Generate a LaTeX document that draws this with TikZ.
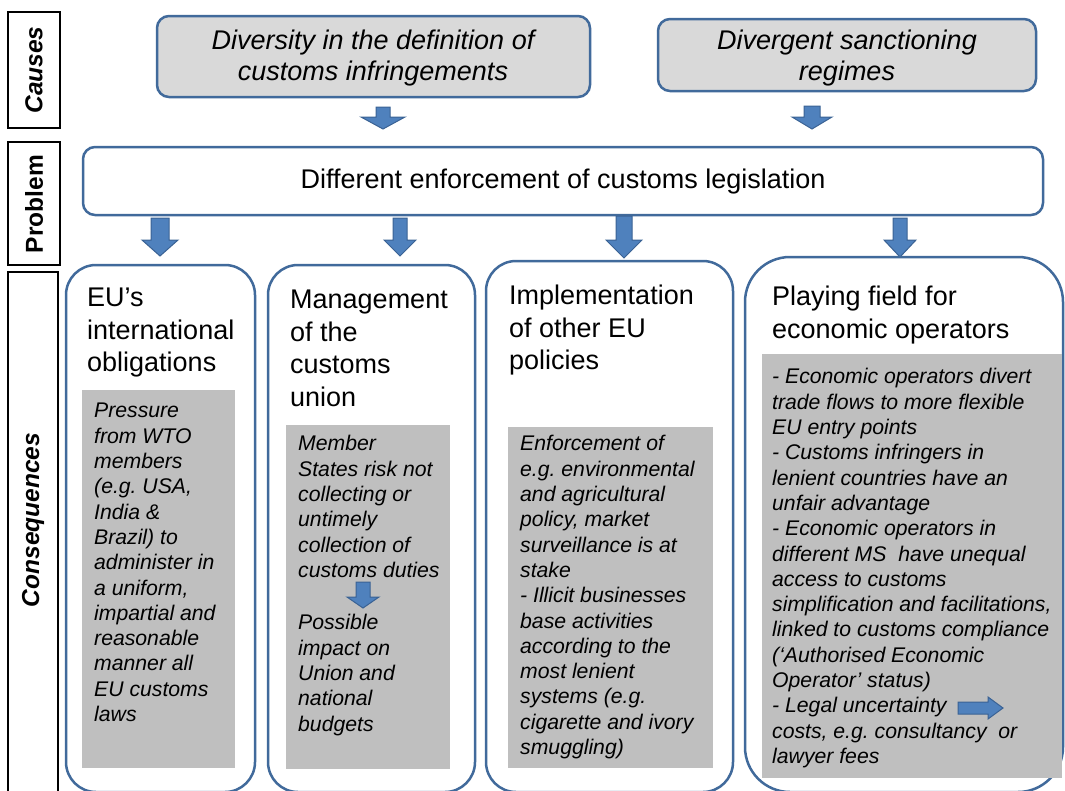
\documentclass[tikz,border=0pt]{standalone}
\usepackage{fontspec}
\setmainfont{Liberation Sans}
\frenchspacing
\definecolor{bordblue}{RGB}{65,106,155}
\definecolor{arrfill}{RGB}{79,129,189}
\definecolor{arrline}{RGB}{58,98,148}
\definecolor{causefill}{RGB}{217,217,217}
\definecolor{bodyfill}{RGB}{191,191,191}
\newcommand{\dnarrow}[6]{%
  \filldraw[blockarrow] ({#1-#5},#2) -- ({#1+#5},#2) -- ({#1+#5},#3) -- ({#1+#6},#3)
    -- (#1,#4) -- ({#1-#6},#3) -- ({#1-#5},#3) -- cycle;}
\newcommand{\rtarrow}[6]{%
  \filldraw[blockarrow] (#2,{#1-#5}) -- (#2,{#1+#5}) -- (#3,{#1+#5}) -- (#3,{#1+#6})
    -- (#4,#1) -- (#3,{#1-#6}) -- (#3,{#1-#5}) -- cycle;}
\begin{document}
\begin{tikzpicture}[x=1pt,y=-1pt,
  blockarrow/.style={fill=arrfill, draw=arrline, line width=1pt, line join=miter},
  sidebox/.style={draw=black, line width=1.2pt},
  sidelabel/.style={rotate=90, font=\fontsize{24.5}{28}\selectfont\bfseries},
  causebox/.style={fill=causefill, draw=bordblue, line width=2.5pt, rounded corners=12pt},
  probbox/.style={fill=white, draw=bordblue, line width=2.5pt, rounded corners=12pt},
  consbox/.style={fill=white, draw=bordblue, line width=2.5pt, rounded corners=30pt},
  bodybox/.style={fill=bodyfill, draw=none},
  titletext/.style={anchor=north west, inner sep=0pt, align=left, font=\fontsize{27}{32.5}\selectfont},
  bodytext/.style={anchor=north west, inner sep=0pt, align=left, font=\fontsize{21.2}{25.3}\selectfont\itshape\frenchspacing},
  causetext/.style={anchor=north, inner sep=0pt, align=center, font=\fontsize{27}{31}\selectfont\itshape}
]
\useasboundingbox (0,0) rectangle (1065,790);
\clip (0,0) rectangle (1065,790);

% side labels
\draw[sidebox] (8,12) rectangle (60,128);
\node[sidelabel, font=\fontsize{24.5}{28}\selectfont\bfseries\itshape] (lcauses) at (34,70) {Causes};
\draw[sidebox] (8,142) rectangle (60,265);
\node[sidelabel] (lproblem) at (34,204) {Problem};
\draw[sidebox] (8,272) rectangle (58,800);
\node[sidelabel, font=\fontsize{24.5}{28}\selectfont\bfseries\itshape] (lcons) at (33,520) {Consequences};

% causes
\draw[causebox] (157,16) rectangle (590,97);
\node[causetext] (cause1) at (373,28) {\strut Diversity in the definition of\\customs infringements};
\draw[causebox] (658,19) rectangle (1036,91);
\node[causetext] (cause2) at (847,28) {\strut Divergent sanctioning\\regimes};

\dnarrow{383}{107}{117}{129}{7}{22}
\dnarrow{812}{106}{117}{129}{8}{20}

% problem
\draw[probbox] (83,147) rectangle (1043,215);
\node[inner sep=0pt, font=\fontsize{27}{32}\selectfont] (problem) at (563,182) {Different enforcement of customs legislation};

\dnarrow{160}{218}{240}{256}{9}{18}
\dnarrow{400}{218}{240}{256}{7}{16}
\dnarrow{624}{216}{240}{258}{8}{18}
\dnarrow{900}{218}{240}{257}{7}{16}

% consequences
\draw[consbox] (66,265) rectangle (255,792);
\draw[consbox] (268,265) rectangle (475,792);
\draw[consbox] (486,261) rectangle (733,792);
\draw[consbox, rounded corners=45pt] (745,257) rectangle (1063,792);

\node[titletext] (t1) at (87,284) {\strut EU’s\\international\\obligations};
\node[titletext] (t2) at (290,286) {\strut Management\\of the\\customs\\union};
\node[titletext] (t3) at (509,282) {\strut Implementation\\of other EU\\policies};
\node[titletext] (t4) at (772,283) {\strut Playing field for\\economic operators};

\fill[bodybox] (82,390) rectangle (235,768);
\fill[bodybox] (286,425) rectangle (450,769);
\fill[bodybox] (508,427) rectangle (713,768);
\fill[bodybox] (762,354) rectangle (1062,778);

\node[bodytext] (b1) at (94,400) {\strut Pressure\\from WTO\\members\\(e.g. USA,\\India \&\\Brazil) to\\administer in\\a uniform,\\impartial and\\reasonable\\manner all\\EU customs\\laws};
\node[bodytext] (b2a) at (298,433) {\strut Member\\States risk not\\collecting or\\untimely\\collection of\\customs duties};
\dnarrow{363}{582}{597}{608}{7}{16}
\node[bodytext] (b2b) at (298,612) {\strut Possible\\impact on\\Union and\\national\\budgets};
\node[bodytext] (b3) at (520,433) {\strut Enforcement of\\e.g. environmental\\and agricultural\\policy, market\\surveillance is at\\stake\\- Illicit businesses\\base activities\\according to the\\most lenient\\systems (e.g.\\cigarette and ivory\\smuggling)};
\node[bodytext] (b4) at (772,366) {\strut - Economic operators divert\\trade flows to more flexible\\EU entry points\\- Customs infringers in\\lenient countries have an\\unfair advantage\\- Economic operators in\\different MS\ \ have unequal\\access to customs\\simplification and facilitations,\\linked to customs compliance\\(‘Authorised Economic\\Operator’ status)\\- Legal uncertainty\\costs, e.g. consultancy\ \ or\\lawyer fees};
\rtarrow{708}{958}{988}{1003}{6}{11}
\end{tikzpicture}
\end{document}
